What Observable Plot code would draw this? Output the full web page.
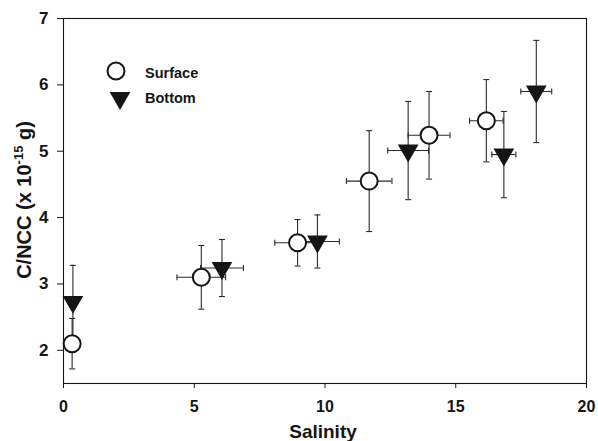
<!DOCTYPE html>
<html>
<head>
<meta charset="utf-8">
<script src="https://cdn.jsdelivr.net/npm/d3@7"></script>
<script src="https://cdn.jsdelivr.net/npm/@observablehq/plot@0.6"></script>
<style>
  body { margin: 0; background: #fff; }
  #chart { position: relative; width: 598px; height: 441px; }
  svg { font-family: "Liberation Sans", Arial, sans-serif; }
</style>
</head>
<body>
<div id="chart"></div>
<script>
// ---- data ----
const seriesNames = ["Surface", "Bottom"];
const xTicks = [0, 5, 10, 15, 20];
const yTicks = [2, 3, 4, 5, 6, 7];

const salinitySurface = [0.33, 5.27, 8.95, 11.69, 13.98, 16.17];
const ccSurface       = [2.10, 3.10, 3.62, 4.55, 5.24, 5.46];
const ySdSurface      = [0.38, 0.48, 0.35, 0.76, 0.66, 0.62];
const xSdSurface      = [0,    0.93, 0.87, 0.87, 0.80, 0.64];

const salinityBottom = [0.36, 6.06, 9.71, 13.18, 16.84, 18.08];
const ccBottom       = [2.73, 3.24, 3.64, 5.01, 4.95, 5.90];
const ySdBottom      = [0.55, 0.43, 0.40, 0.74, 0.65, 0.77];
const xSdBottom      = [0,    0.82, 0.84, 0.78, 0.46, 0.59];

// ---- build tables ----
const surface = salinitySurface.map((x, i) => ({x, y: ccSurface[i], ysd: ySdSurface[i], xsd: xSdSurface[i], type: seriesNames[0]}));
const bottom  = salinityBottom.map((x, i) => ({x, y: ccBottom[i], ysd: ySdBottom[i], xsd: xSdBottom[i], type: seriesNames[1]}));
const all = surface.concat(bottom);
const withX = all.filter(d => d.xsd > 0);

// custom symbols
const capH = {draw(ctx) { ctx.moveTo(-3, 0); ctx.lineTo(3, 0); }};
const capV = {draw(ctx) { ctx.moveTo(0, -3); ctx.lineTo(0, 3); }};
const triDown = {draw(ctx, size) {
  const s3 = Math.sqrt(3);
  const y = Math.sqrt(size / (s3 * 3));
  ctx.moveTo(0, 2 * y);
  ctx.lineTo(-s3 * y, -y);
  ctx.lineTo(s3 * y, -y);
  ctx.closePath();
}};

const ink = "#151515";
const barInk = "#2a2a2a";

const plot = Plot.plot({
  width: 598,
  height: 441,
  marginLeft: 63,
  marginRight: 12,
  marginTop: 18,
  marginBottom: 58,
  style: {fontFamily: "Liberation Sans, Arial, sans-serif", background: "white", color: ink},
  x: {domain: [0, 20], label: null},
  y: {domain: [1.5, 7], label: null},
  marks: [
    Plot.axisX(xTicks, {tickSize: 5, tickPadding: 12, fontSize: 16, fontWeight: "bold", stroke: ink, label: null, tickFormat: d => String(d)}),
    Plot.axisY(yTicks, {tickSize: 6, tickPadding: 9, fontSize: 17, fontWeight: "bold", stroke: ink, label: null, tickFormat: d => String(d)}),
    // vertical error bars
    Plot.ruleX(all, {x: "x", y1: d => d.y - d.ysd, y2: d => d.y + d.ysd, stroke: barInk, strokeWidth: 1.1}),
    Plot.dot(all, {x: "x", y: d => d.y + d.ysd, symbol: capH, r: 3, stroke: barInk, strokeWidth: 1.1, fill: "none"}),
    Plot.dot(all, {x: "x", y: d => d.y - d.ysd, symbol: capH, r: 3, stroke: barInk, strokeWidth: 1.1, fill: "none"}),
    // horizontal error bars
    Plot.ruleY(withX, {y: "y", x1: d => d.x - d.xsd, x2: d => d.x + d.xsd, stroke: barInk, strokeWidth: 1.1}),
    Plot.dot(withX, {x: d => d.x - d.xsd, y: "y", symbol: capV, r: 3, stroke: barInk, strokeWidth: 1.1, fill: "none"}),
    Plot.dot(withX, {x: d => d.x + d.xsd, y: "y", symbol: capV, r: 3, stroke: barInk, strokeWidth: 1.1, fill: "none"}),
    // markers
    Plot.dot(surface, {x: "x", y: "y", r: 8.5, fill: "white", stroke: ink, strokeWidth: 2}),
    Plot.dot(bottom, {x: "x", y: "y", symbol: triDown, r: 7.7, fill: ink, stroke: "none"}),
    Plot.frame({stroke: ink, strokeWidth: 1.1})
  ]
});

document.getElementById("chart").appendChild(plot);

// ---- axis titles ----
const svg = d3.select(plot);
svg.append("text")
  .attr("x", 323).attr("y", 438)
  .attr("text-anchor", "middle")
  .attr("font-size", 19).attr("font-weight", "bold").attr("fill", ink)
  .text("Salinity");

const yl = svg.append("text")
  .attr("transform", "translate(31,200) rotate(-90)")
  .attr("text-anchor", "middle")
  .attr("font-size", 20).attr("font-weight", "bold").attr("fill", ink);
yl.append("tspan").text("C/NCC (x 10");
yl.append("tspan").attr("dy", -8).attr("font-size", 13).text("-15");
yl.append("tspan").attr("dy", 8).text(" g)");

// ---- legend ----
const lg = svg.append("g").attr("fill", ink).attr("text-anchor", "start");
lg.append("circle").attr("cx", 116).attr("cy", 71).attr("r", 8.5)
  .attr("fill", "white").attr("stroke", ink).attr("stroke-width", 2);
lg.append("text").attr("x", 145).attr("y", 78).attr("font-size", 14.5).attr("font-weight", "bold").text(seriesNames[0]);
lg.append("path").attr("transform", "translate(120,98)")
  .attr("d", d3.symbol(triDown, Math.PI * 7.7 * 7.7)());
lg.append("text").attr("x", 145).attr("y", 103).attr("font-size", 14.5).attr("font-weight", "bold").text(seriesNames[1]);
</script>
</body>
</html>
